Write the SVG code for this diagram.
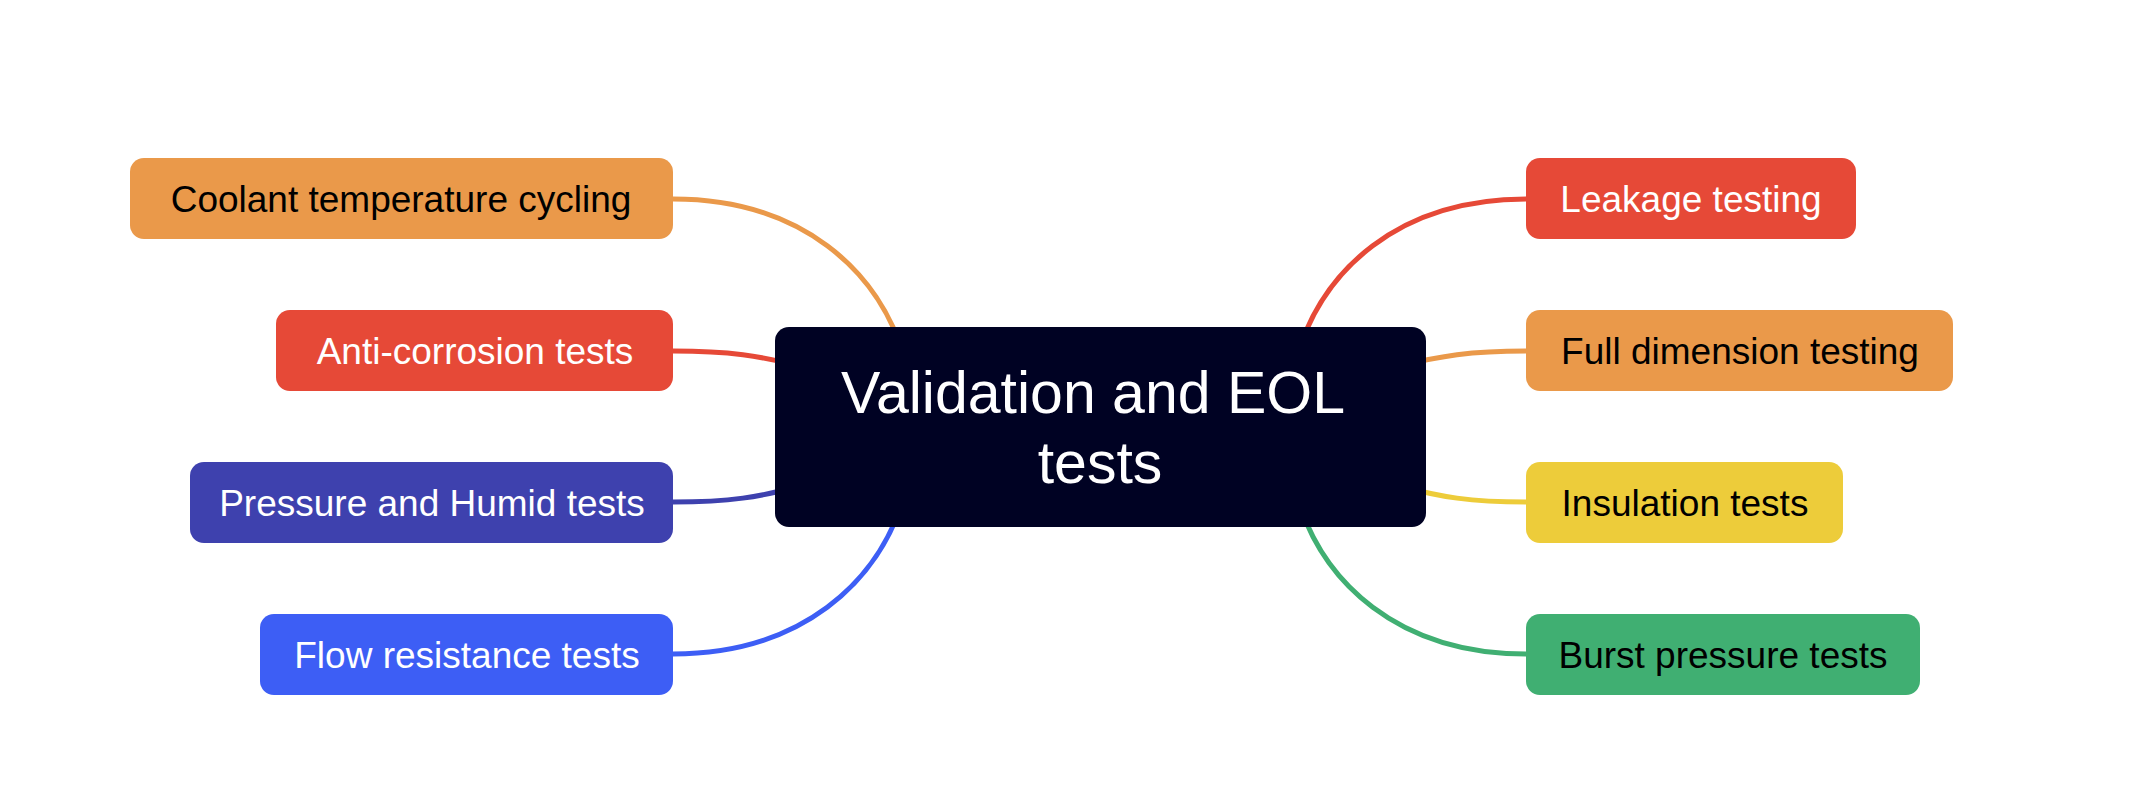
<svg xmlns="http://www.w3.org/2000/svg" width="2154" height="812" viewBox="0 0 2154 812">
<style>
.lbl{font-family:"Liberation Sans",Arial,sans-serif;font-size:37px;text-anchor:middle}
.dk{fill:#000000}
.lt{fill:#ffffff}
.title{font-family:"Liberation Sans",Arial,sans-serif;font-size:59px;fill:#ffffff;text-anchor:middle}
.c{fill:none;stroke-width:5;stroke-linecap:round}
</style>
<rect width="2154" height="812" fill="#ffffff"/>
<g id="connectors">
<path class="c" stroke="#EA994A" d="M673,199 C800,199 880,270 905,360"/>
<path class="c" stroke="#E64937" d="M673,351 C730,351 760,356 800,366"/>
<path class="c" stroke="#3E41AE" d="M673,502 C730,502 760,497 800,486"/>
<path class="c" stroke="#3D5EF5" d="M673,654 C800,654 880,583 905,493"/>
<path class="c" stroke="#E64937" d="M1526,199 C1399,199 1321,270 1296,360"/>
<path class="c" stroke="#EA994A" d="M1526,351 C1470,351 1440,356 1400,366"/>
<path class="c" stroke="#EDCC3A" d="M1526,502 C1470,502 1440,497 1400,486"/>
<path class="c" stroke="#40AF72" d="M1526,654 C1399,654 1321,583 1296,493"/>
</g>
<g id="center">
<rect x="775" y="327" width="651" height="200" rx="14" fill="#000223"/>
<text class="title" x="1093" y="413">Validation and EOL</text>
<text class="title" x="1100" y="483">tests</text>
</g>
<g id="coolant">
<rect x="130" y="158" width="543" height="81" rx="14" fill="#EA994A"/>
<text class="lbl dk" x="401" y="212">Coolant temperature cycling</text>
</g>
<g id="anticorrosion">
<rect x="276" y="310" width="397" height="81" rx="14" fill="#E64937"/>
<text class="lbl lt" x="475" y="364">Anti-corrosion tests</text>
</g>
<g id="pressure">
<rect x="190" y="462" width="483" height="81" rx="14" fill="#3E41AE"/>
<text class="lbl lt" x="432" y="516">Pressure and Humid tests</text>
</g>
<g id="flow">
<rect x="260" y="614" width="413" height="81" rx="14" fill="#3D5EF5"/>
<text class="lbl lt" x="467" y="668">Flow resistance tests</text>
</g>
<g id="leakage">
<rect x="1526" y="158" width="330" height="81" rx="14" fill="#E64937"/>
<text class="lbl lt" x="1691" y="212">Leakage testing</text>
</g>
<g id="fulldimension">
<rect x="1526" y="310" width="427" height="81" rx="14" fill="#EA994A"/>
<text class="lbl dk" x="1740" y="364">Full dimension testing</text>
</g>
<g id="insulation">
<rect x="1526" y="462" width="317" height="81" rx="14" fill="#EDCC3A"/>
<text class="lbl dk" x="1685" y="516">Insulation tests</text>
</g>
<g id="burst">
<rect x="1526" y="614" width="394" height="81" rx="14" fill="#40AF72"/>
<text class="lbl dk" x="1723" y="668">Burst pressure tests</text>
</g>
</svg>
